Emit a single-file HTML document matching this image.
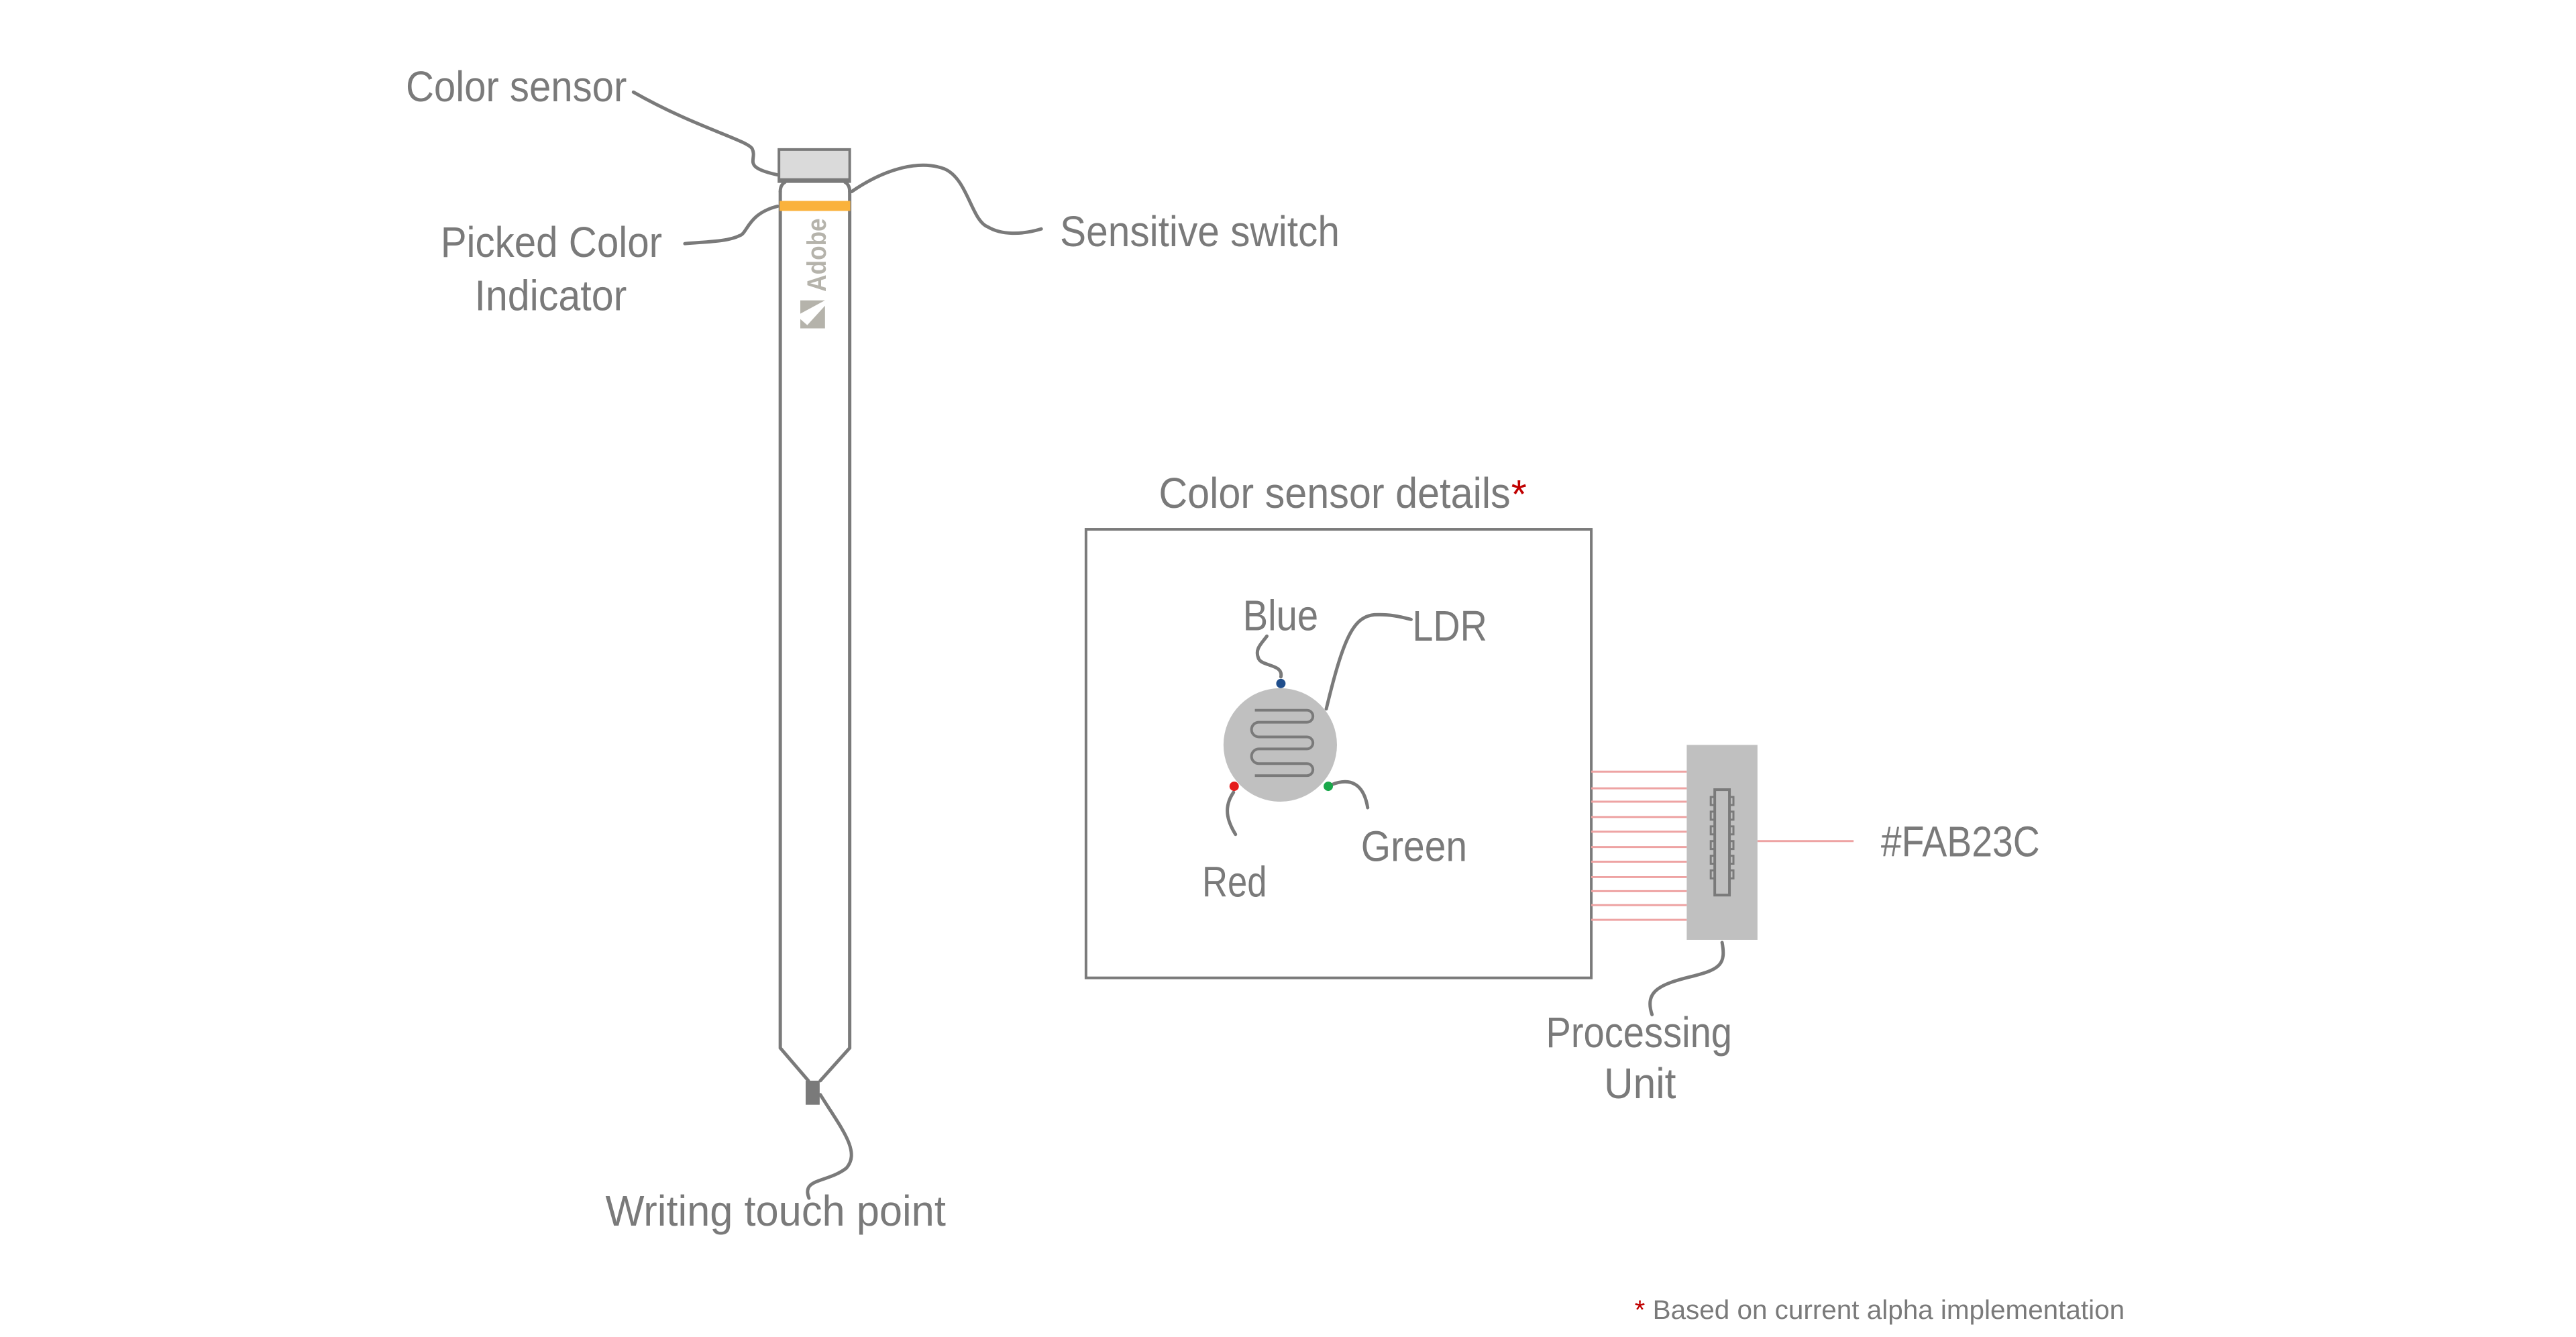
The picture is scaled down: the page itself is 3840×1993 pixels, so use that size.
<!DOCTYPE html>
<html><head><meta charset="utf-8"><style>
html,body{margin:0;padding:0;background:#fff}
svg{display:block}
text{font-family:"Liberation Sans",sans-serif;fill:#7a7a7a}
</style></head><body>
<svg width="3840" height="1993" viewBox="0 0 3840 1993" xmlns="http://www.w3.org/2000/svg">
<g transform="scale(0.995)">
<g fill="none" stroke="#7a7a7a" stroke-width="5" stroke-linecap="round">
  <path d="M1169 287 L1169 1570 L1211 1619 M1273 287 L1273 1570 L1229 1619"/>
  <path d="M1169 287 Q1169 277 1176 273 M1273 287 Q1273 277 1266 273"/>
  <path d="M949 138 C1040 190 1120 210 1127 223 C1135 240 1110 250 1165 262"/>
  <path d="M1276 287 C1330 250 1380 240 1415 253 C1450 268 1455 330 1480 340 C1500 352 1530 352 1560 343"/>
  <path d="M1165 309 C1120 320 1120 350 1108 353 C1090 362 1060 362 1026 365"/>
  <path d="M1229 1640 C1260 1690 1290 1725 1268 1750 C1240 1772 1200 1765 1212 1795"/>
</g>
<rect x="1167" y="224" width="106" height="48" fill="#dadada" stroke="#7a7a7a" stroke-width="4"/>
<rect x="1167" y="267" width="106" height="6" fill="#7a7a7a"/>
<rect x="1168" y="301" width="106" height="15" fill="#fab23c"/>
<rect x="1207" y="1619" width="21" height="36" fill="#7a7a7a"/>
<text x="0" y="0" transform="translate(1237,437) rotate(-90)" font-size="40" font-weight="bold" style="fill:#b5b3ab" textLength="110" lengthAdjust="spacingAndGlyphs">Adobe</text>
<g fill="#b5b3ab"><polygon points="1199,450 1236,450 1199,470"/><polygon points="1236,458 1236,492 1205,492"/><polygon points="1199,478 1215,492 1199,492"/></g>

<rect x="1627" y="793" width="757" height="672" fill="none" stroke="#7a7a7a" stroke-width="4"/>
<text x="2264" y="761" style="fill:#c00000" font-size="60">*</text>
<text x="1736" y="761" font-size="64" textLength="527" lengthAdjust="spacingAndGlyphs">Color sensor details</text>

<g transform="translate(8,4)">
<g fill="none" stroke="#7a7a7a" stroke-width="5" stroke-linecap="round">
  <path d="M1911 1010 C1915 990 1880 995 1877 981 C1872 968 1882 960 1890 949"/>
  <path d="M1979 1058 C2005 950 2020 920 2051 917 C2075 916 2090 920 2106 924"/>
  <path d="M1840 1183 C1825 1205 1830 1225 1843 1246"/>
  <path d="M1986 1172 C2015 1160 2035 1170 2041 1206"/>
  <path d="M2572 1408 C2578 1440 2569 1448 2530 1458 C2480 1470 2455 1480 2467 1516"/>
</g>
<circle cx="1910" cy="1112" r="85" fill="#c0c0c0"/>
<path d="M1872 1060 H1950 a9 9 0 0 1 0 18 H1878 a11 11 0 0 0 0 22 H1950 a9 9 0 0 1 0 18 H1878 a11 11 0 0 0 0 22 H1950 a9 9 0 0 1 0 18 H1872" fill="none" stroke="#7a7a7a" stroke-width="4"/>
<circle cx="1911" cy="1020" r="7" fill="#1f4e8c"/>
<circle cx="1841" cy="1174" r="7" fill="#e51b1b"/>
<circle cx="1982" cy="1174" r="7" fill="#19a84a"/>
<g stroke="#eea3a3" stroke-width="3">
<line x1="2376" y1="1152" x2="2519" y2="1152"/><line x1="2376" y1="1177" x2="2519" y2="1177"/>
<line x1="2376" y1="1197" x2="2519" y2="1197"/><line x1="2376" y1="1220" x2="2519" y2="1220"/>
<line x1="2376" y1="1242" x2="2519" y2="1242"/><line x1="2376" y1="1265" x2="2519" y2="1265"/>
<line x1="2376" y1="1287" x2="2519" y2="1287"/><line x1="2376" y1="1310" x2="2519" y2="1310"/>
<line x1="2376" y1="1331" x2="2519" y2="1331"/><line x1="2376" y1="1352" x2="2519" y2="1352"/>
<line x1="2376" y1="1374" x2="2519" y2="1374"/>
<line x1="2625" y1="1256" x2="2769" y2="1256"/>
</g>
<rect x="2519" y="1112" width="106" height="292" fill="#c0c0c0"/>
<rect x="2561" y="1179" width="22" height="158" fill="none" stroke="#7a7a7a" stroke-width="4"/>
<path d="M2561 1190 h-6 v12 h6 M2561 1212 h-6 v12 h6 M2561 1234 h-6 v12 h6 M2561 1256 h-6 v12 h6 M2561 1278 h-6 v12 h6 M2561 1300 h-6 v12 h6 M2583 1190 h6 v12 h-6 M2583 1212 h6 v12 h-6 M2583 1234 h6 v12 h-6 M2583 1256 h6 v12 h-6 M2583 1278 h6 v12 h-6 M2583 1300 h6 v12 h-6" fill="none" stroke="#7a7a7a" stroke-width="3"/>
<g font-size="64">
<text x="1854" y="940" textLength="113" lengthAdjust="spacingAndGlyphs">Blue</text>
<text x="2108" y="956" textLength="112" lengthAdjust="spacingAndGlyphs">LDR</text>
<text x="2031" y="1286" textLength="159" lengthAdjust="spacingAndGlyphs">Green</text>
<text x="1793" y="1339" textLength="97" lengthAdjust="spacingAndGlyphs">Red</text>
<text x="2810" y="1279" textLength="238" lengthAdjust="spacingAndGlyphs">#FAB23C</text>
<text x="2308" y="1565" textLength="279" lengthAdjust="spacingAndGlyphs">Processing</text>
<text x="2395" y="1641" textLength="108" lengthAdjust="spacingAndGlyphs">Unit</text>
</g>
</g>

<g font-size="64">
<text x="608" y="152" textLength="331" lengthAdjust="spacingAndGlyphs">Color sensor</text>
<text x="1588" y="369" textLength="419" lengthAdjust="spacingAndGlyphs">Sensitive switch</text>
<text x="660" y="385" textLength="332" lengthAdjust="spacingAndGlyphs">Picked Color</text>
<text x="711" y="465" textLength="228" lengthAdjust="spacingAndGlyphs">Indicator</text>
<text x="907" y="1836" textLength="510" lengthAdjust="spacingAndGlyphs">Writing touch point</text>
</g>
<text x="2449" y="1976" font-size="40" style="fill:#c00000">*</text>
<text x="2476" y="1976" font-size="40" textLength="707" lengthAdjust="spacingAndGlyphs">Based on current alpha implementation</text>
</g>
</svg>
</body></html>
